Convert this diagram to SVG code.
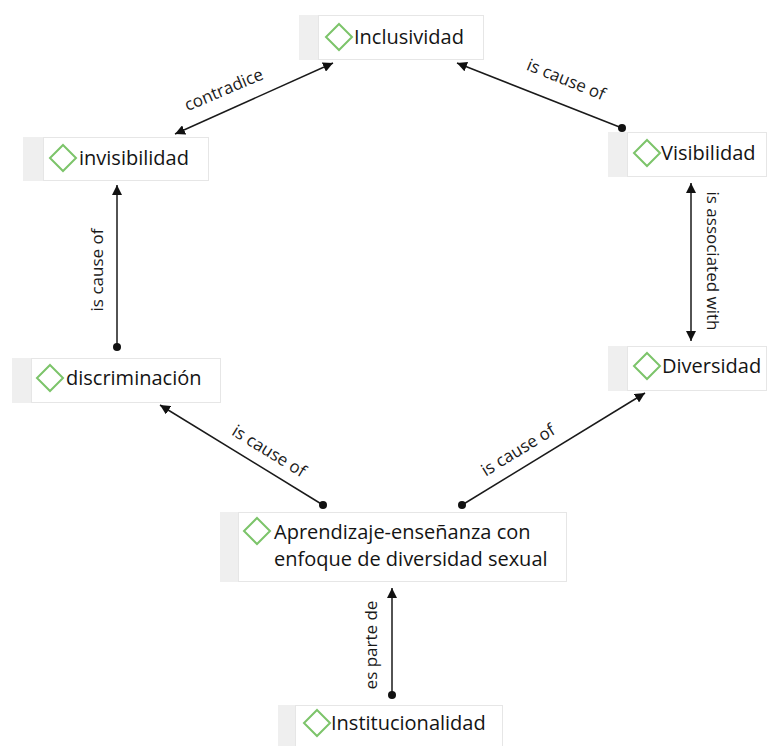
<svg xmlns="http://www.w3.org/2000/svg" width="767" height="746" viewBox="0 0 767 746">
<defs>
<style>
.stripe{fill:#efefef}
.box{fill:#ffffff;stroke:#e6e6e6;stroke-width:1}
.dia{fill:none;stroke:#7cc46a;stroke-width:2}
.nt{font-family:"Open Sans","Noto Sans",sans-serif;font-size:20px;fill:#141414}
.lt{font-family:"Open Sans","Noto Sans",sans-serif;font-size:17px;fill:#1a1a1a}
.ln{stroke:#1a1a1a;stroke-width:1.5;fill:none}
.dot{fill:#111}
</style>
<marker id="ah" viewBox="0 0 10 10" refX="10" refY="5" markerWidth="10" markerHeight="10" markerUnits="userSpaceOnUse" orient="auto-start-reverse">
<path d="M0,0 L10,5 L0,10 z" fill="#111"/>
</marker>
</defs>
<rect width="767" height="746" fill="#ffffff"/>

<g id="connectors">
<line class="ln" x1="175" y1="134" x2="333" y2="63" marker-start="url(#ah)" marker-end="url(#ah)"/>
<text class="lt" transform="translate(226,95) rotate(-23)" text-anchor="middle">contradice</text>

<line class="ln" x1="622" y1="128" x2="457" y2="63" marker-end="url(#ah)"/>
<circle class="dot" cx="622" cy="128" r="4"/>
<text class="lt" transform="translate(564,85) rotate(22)" text-anchor="middle">is cause of</text>

<line class="ln" x1="691" y1="183" x2="691" y2="341" marker-start="url(#ah)" marker-end="url(#ah)"/>
<text class="lt" transform="translate(707,261) rotate(90)" text-anchor="middle">is associated with</text>

<line class="ln" x1="117" y1="347" x2="117" y2="185" marker-end="url(#ah)"/>
<circle class="dot" cx="117" cy="347" r="4"/>
<text class="lt" transform="translate(103,270) rotate(-90)" text-anchor="middle">is cause of</text>

<line class="ln" x1="323" y1="505" x2="160" y2="405" marker-end="url(#ah)"/>
<circle class="dot" cx="323" cy="505" r="4"/>
<text class="lt" transform="translate(266,456) rotate(31.5)" text-anchor="middle">is cause of</text>

<line class="ln" x1="462" y1="505" x2="645" y2="393" marker-end="url(#ah)"/>
<circle class="dot" cx="462" cy="505" r="4"/>
<text class="lt" transform="translate(521,455) rotate(-31.5)" text-anchor="middle">is cause of</text>

<line class="ln" x1="392" y1="695" x2="392" y2="588" marker-end="url(#ah)"/>
<circle class="dot" cx="392" cy="695" r="4"/>
<text class="lt" transform="translate(377,645) rotate(-90)" text-anchor="middle">es parte de</text>
</g>

<g id="n-inclusividad">
<rect class="stripe" x="299" y="15" width="20" height="45"/>
<rect class="box" x="318.5" y="15.5" width="165" height="44"/>
<path class="dia" d="M339,24 L352,37 L339,50 L326,37 Z"/>
<text class="nt" x="354" y="44">Inclusividad</text>
</g>

<g id="n-invisibilidad">
<rect class="stripe" x="23" y="137" width="20" height="44"/>
<rect class="box" x="43.5" y="137.5" width="165" height="43"/>
<path class="dia" d="M63,145 L76,158 L63,171 L50,158 Z"/>
<text class="nt" x="79" y="165">invisibilidad</text>
</g>

<g id="n-visibilidad">
<rect class="stripe" x="608" y="132" width="20" height="45"/>
<rect class="box" x="627.5" y="132.5" width="139" height="44"/>
<path class="dia" d="M647,140 L660,153 L647,166 L634,153 Z"/>
<text class="nt" x="661" y="160">Visibilidad</text>
</g>

<g id="n-discriminacion">
<rect class="stripe" x="12" y="358" width="20" height="45"/>
<rect class="box" x="31.5" y="358.5" width="189" height="44"/>
<path class="dia" d="M50,365 L63,378 L50,391 L37,378 Z"/>
<text class="nt" x="66" y="385">discriminación</text>
</g>

<g id="n-diversidad">
<rect class="stripe" x="608" y="346" width="20" height="45"/>
<rect class="box" x="627.5" y="346.5" width="139" height="44"/>
<path class="dia" d="M647,353 L660,366 L647,379 L634,366 Z"/>
<text class="nt" x="662" y="373">Diversidad</text>
</g>

<g id="n-aprendizaje">
<rect class="stripe" x="220" y="512" width="19" height="70"/>
<rect class="box" x="238.5" y="512.5" width="328" height="69"/>
<path class="dia" d="M257,518 L270,531 L257,544 L244,531 Z"/>
<text class="nt" x="274" y="539">Aprendizaje-enseñanza con</text>
<text class="nt" x="274" y="566">enfoque de diversidad sexual</text>
</g>

<g id="n-institucionalidad">
<rect class="stripe" x="278" y="705" width="18" height="41"/>
<rect class="box" x="295.5" y="705.5" width="207" height="44"/>
<path class="dia" d="M317,710 L330,723 L317,736 L304,723 Z"/>
<text class="nt" x="331" y="730">Institucionalidad</text>
</g>
</svg>
